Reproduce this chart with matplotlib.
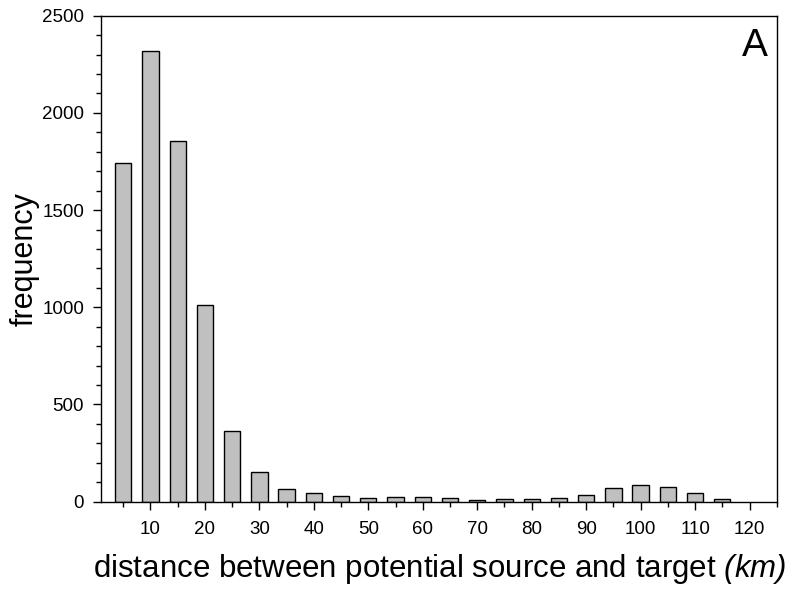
import matplotlib
matplotlib.use("Agg")
import matplotlib.pyplot as plt
from matplotlib.ticker import MultipleLocator

plt.rcParams["font.family"] = ["Liberation Sans", "DejaVu Sans"]
plt.rcParams["mathtext.fontset"] = "custom"
plt.rcParams["mathtext.rm"] = "Liberation Sans:italic"
plt.rcParams["mathtext.it"] = "Liberation Sans:italic"

# bin centres (km) and counts
distance = [5, 10, 15, 20, 25, 30, 35, 40, 45, 50, 55, 60,
            65, 70, 75, 80, 85, 90, 95, 100, 105, 110, 115]
frequency = [1740, 2320, 1855, 1012, 365, 151, 64, 46, 28, 17, 26, 26,
             17, 7, 12, 12, 17, 36, 69, 84, 74, 46, 12]

fig = plt.figure(figsize=(7.91, 5.94), dpi=100)
ax = fig.add_axes([0.1283, 0.1554, 0.8537, 0.8182])

ax.bar(distance, frequency, width=3.0, color="#c0c0c0",
       edgecolor="black", linewidth=1.0, zorder=2)

ax.set_xlim(1, 125)
ax.set_ylim(0, 2500)
ax.xaxis.set_major_locator(MultipleLocator(10))
ax.xaxis.set_minor_locator(MultipleLocator(5))
ax.yaxis.set_major_locator(MultipleLocator(500))
ax.yaxis.set_minor_locator(MultipleLocator(100))
ax.set_xticks(range(10, 121, 10))

for s in ax.spines.values():
    s.set_linewidth(1.0)

ax.tick_params(which="major", direction="out", length=6, width=1.0,
               labelsize=13.5)
ax.tick_params(axis="x", which="major", pad=8)
ax.tick_params(axis="y", which="major", pad=6.5)
ax.tick_params(which="minor", direction="out", length=3.5, width=1.0)

ax.set_ylabel("frequency", fontsize=22, labelpad=2)
ax.set_xlabel(r"distance between potential source and target $\mathit{(km)}$",
              fontsize=22.5, labelpad=10)

ax.text(0.987, 0.975, "A", transform=ax.transAxes, ha="right", va="top",
        fontsize=28)

fig.savefig("out.png", dpi=100, facecolor="white")
